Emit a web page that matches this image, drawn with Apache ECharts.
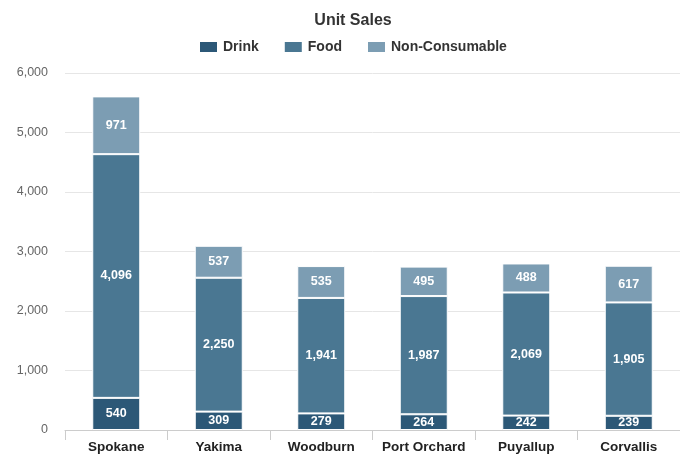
<!DOCTYPE html>
<html>
<head>
<meta charset="utf-8">
<script src="https://cdn.jsdelivr.net/npm/echarts@6/dist/echarts.min.js"></script>
<style>
  html, body { margin: 0; padding: 0; background: #ffffff; }
  #chart { width: 680px; height: 457px; }
</style>
</head>
<body>
<div id="chart"></div>
<script>
// Stores and unit sales by product family
const stores = ['Spokane', 'Yakima', 'Woodburn', 'Port Orchard', 'Puyallup', 'Corvallis'];
const drink = [540, 309, 279, 264, 242, 239];
const food = [4096, 2250, 1941, 1987, 2069, 1905];
const nonConsumable = [971, 537, 535, 495, 488, 617];
const yTicks = [0, 1000, 2000, 3000, 4000, 5000, 6000];

const colors = ['#2c5877', '#4a7792', '#7c9db3'];
const FONT = 'Liberation Sans, Arial, sans-serif';

function seriesOf(name, data, color) {
  return {
    name: name,
    type: 'bar',
    stack: 'total',
    data: data,
    barWidth: 48,
    itemStyle: { color: color, borderColor: '#ffffff', borderWidth: 1 },
    label: {
      show: true,
      position: 'inside',
      color: '#ffffff',
      fontFamily: FONT,
      fontWeight: 'bold',
      fontSize: 12.5,
      formatter: p => p.value.toLocaleString('en-US')
    }
  };
}

const chart = echarts.init(document.getElementById('chart'));
chart.setOption({
  animation: false,
  title: {
    text: 'Unit Sales',
    left: 348,
    textAlign: 'center',
    top: 8,
    textStyle: { fontFamily: FONT, fontSize: 16, fontWeight: 'bold', color: '#333333' }
  },
  legend: {
    top: 35,
    left: 193,
    itemWidth: 19,
    itemHeight: 12,
    itemGap: 24,
    icon: 'rect',
    textStyle: { fontFamily: FONT, fontSize: 14, fontWeight: 'bold', color: '#333333' },
    data: ['Drink', 'Food', 'Non-Consumable']
  },
  grid: { left: 65, top: 73, width: 624, height: 357 },
  xAxis: {
    type: 'category',
    data: stores,
    axisLine: { lineStyle: { color: '#cccccc' } },
    axisTick: { show: true, interval: 0, length: 10, lineStyle: { color: '#cccccc' } },
    axisLabel: {
      interval: 0,
      margin: 10,
      fontFamily: FONT,
      fontSize: 13.5,
      fontWeight: 'bold',
      color: '#222222'
    }
  },
  yAxis: {
    type: 'value',
    min: yTicks[0],
    max: yTicks[yTicks.length - 1],
    interval: 1000,
    axisLine: { show: false },
    axisTick: { show: false },
    splitLine: { lineStyle: { color: '#e6e6e6' } },
    axisLabel: {
      margin: 17,
      fontFamily: FONT,
      fontSize: 12.5,
      color: '#666666',
      formatter: v => v.toLocaleString('en-US')
    }
  },
  series: [
    seriesOf('Drink', drink, colors[0]),
    seriesOf('Food', food, colors[1]),
    seriesOf('Non-Consumable', nonConsumable, colors[2])
  ]
});
</script>
</body>
</html>
